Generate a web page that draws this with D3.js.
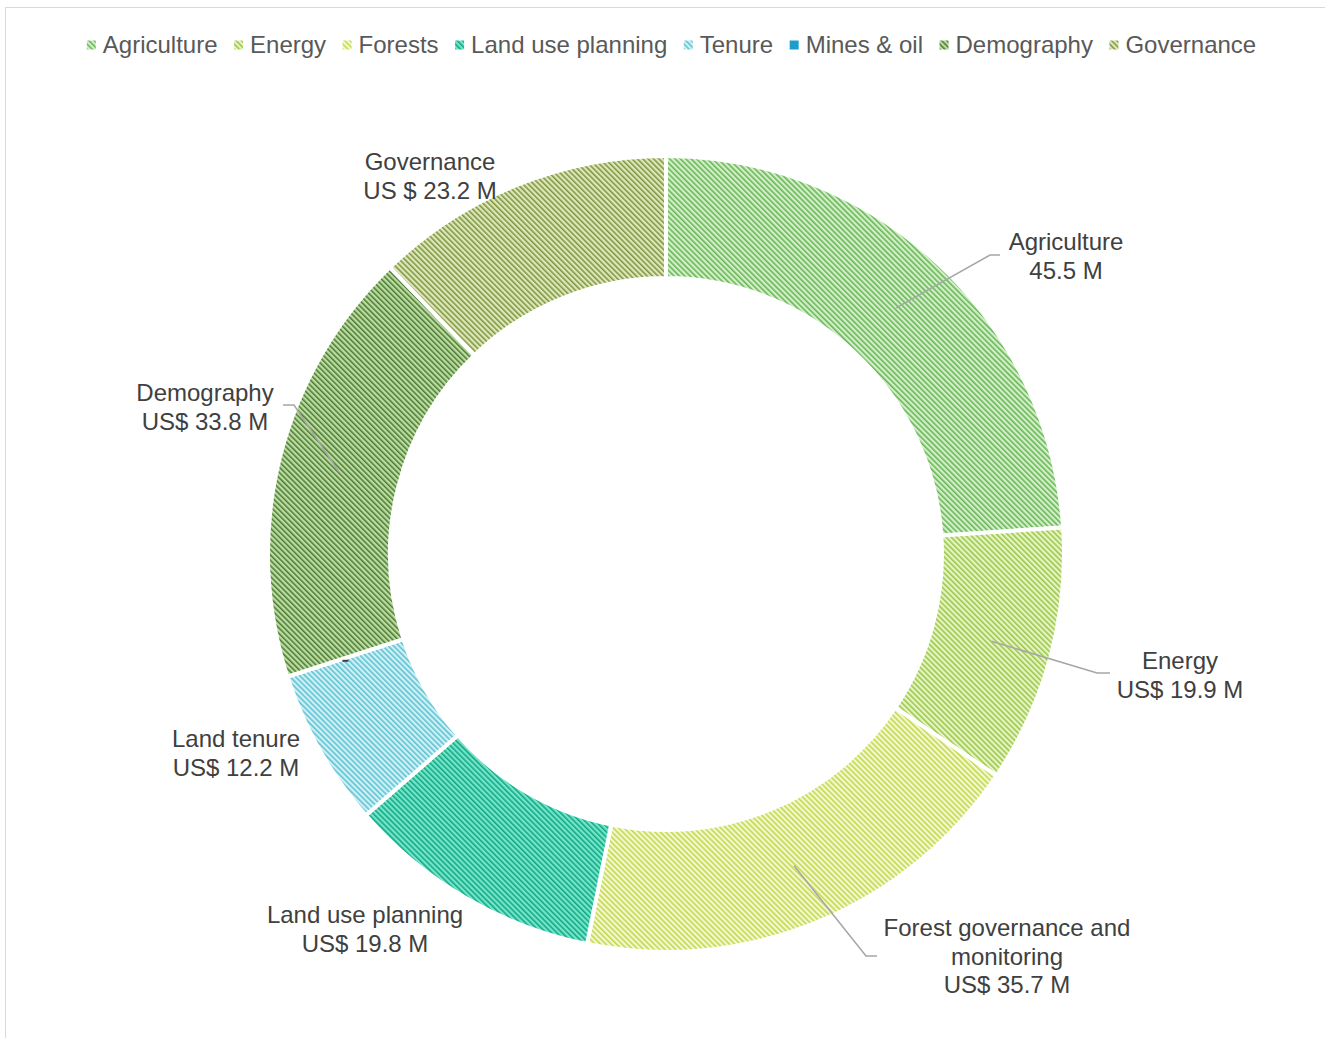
<!DOCTYPE html>
<html>
<head>
<meta charset="utf-8">
<script src="https://cdn.jsdelivr.net/npm/d3@7"></script>
<style>
  body { margin: 0; background: #fff; }
  svg { display: block; font-family: "Liberation Sans", Arial, sans-serif; }
</style>
</head>
<body>
<div id="chart"></div>
<script>
// data, slices run clockwise from 12 o'clock
const categories = ["Agriculture", "Energy", "Forests", "Land use planning", "Tenure", "Mines & oil", "Demography", "Governance"];
const values = [45.5, 19.9, 35.7, 19.8, 12.2, 0, 33.8, 23.2];
const sliceLabels = [
    ["Agriculture", "45.5 M"],
    ["Energy", "US$ 19.9 M"],
    ["Forest governance and", "monitoring", "US$ 35.7 M"],
    ["Land use planning", "US$ 19.8 M"],
    ["Land tenure", "US$ 12.2 M"],
    [],
    ["Demography", "US$ 33.8 M"],
    ["Governance", "US $ 23.2 M"]
];

// stripe colour / background colour of each hatch fill
const stripeColors = ["#62b551", "#97c645", "#c2d747", "#0fa585", "#59c1d1", "#1b9bc9", "#4a7a30", "#7d9340"];
const fillColors = ["#d3eec8", "#e6f4c3", "#f2f8cf", "#74e6c8", "#cff0f5", "#1e9fcc", "#bcdca3", "#dde8b8"];

const width = 1325, height = 1038;
const cx = 666, cy = 554;
const outerR = 398, innerR = 276;

const svg = d3.select("#chart").append("svg")
    .attr("width", width)
    .attr("height", height);

// chart frame (runs off the right / bottom of the picture)
svg.append("rect")
    .attr("x", 5.5).attr("y", 7.5)
    .attr("width", 1400).attr("height", 1100)
    .attr("fill", "#fff")
    .attr("stroke", "#d9d9d9")
    .attr("stroke-width", 1);

const defs = svg.append("defs");
categories.forEach((c, i) => {
    const p = defs.append("pattern")
        .attr("id", "hatch" + i)
        .attr("patternUnits", "userSpaceOnUse")
        .attr("width", 3.8).attr("height", 3.8)
        .attr("patternTransform", "rotate(-45)");
    p.append("rect").attr("width", 3.8).attr("height", 3.8).attr("fill", fillColors[i]);
    p.append("rect").attr("width", 1.5).attr("height", 3.8).attr("fill", stripeColors[i]);
});

const pie = d3.pie().sort(null).value(d => d.value);
const arcs = pie(categories.map((c, i) => ({ name: c, value: values[i], idx: i })));

const arc = d3.arc().innerRadius(innerR).outerRadius(outerR);
const midArc = d3.arc().innerRadius(337).outerRadius(337);

const g = svg.append("g").attr("transform", `translate(${cx},${cy})`);

g.selectAll("path.slice")
    .data(arcs)
    .join("path")
    .attr("class", "slice")
    .attr("d", arc)
    .attr("fill", d => `url(#hatch${d.data.idx})`)
    .attr("stroke", "#fff")
    .attr("stroke-width", 4);

// label layout: centre of first text line, and leader bend / end points (absolute coords)
const labelPos = [
    { x: 1066, y: 242, bend: [990, 255], end: [1000, 255] },
    { x: 1180, y: 661, bend: [1097, 673], end: [1110, 673] },
    { x: 1007, y: 928, bend: [866, 956], end: [877, 956] },
    { x: 365, y: 915 },
    { x: 236, y: 739 },
    { x: 0, y: 0 },
    { x: 205, y: 393, bend: [294, 405], end: [283, 405] },
    { x: 430, y: 162 }
];

const lineH = 28.5;
arcs.forEach((d, i) => {
    const pos = labelPos[i];
    const [mx, my] = midArc.centroid(d);
    if (pos.bend) {
        svg.append("polyline")
            .attr("points", [[cx + mx, cy + my], pos.bend, pos.end].map(p => p.join(",")).join(" "))
            .attr("fill", "none")
            .attr("stroke", "#a6a6a6")
            .attr("stroke-width", 1.5);
    }
    if (d.data.value === 0) {
        // zero-size slice only leaves a tiny leader stub
        svg.append("line")
            .attr("x1", cx + mx - 3).attr("x2", cx + mx + 3)
            .attr("y1", cy + my + 3).attr("y2", cy + my + 3)
            .attr("stroke", "#404040")
            .attr("stroke-width", 2);
        return;
    }
    const t = svg.append("text")
        .attr("text-anchor", "middle")
        .attr("fill", "#404040")
        .style("font-size", "24px");
    sliceLabels[i].forEach((line, k) => {
        t.append("tspan")
            .attr("x", pos.x)
            .attr("y", pos.y + k * lineH)
            .attr("dy", "0.35em")
            .text(line);
    });
});

// legend, centred above the ring
const legend = svg.append("g");
const legendGap = 16.5;
let lx = 0;
categories.forEach((c, i) => {
    const item = legend.append("g").attr("transform", `translate(${lx},0)`);
    item.append("rect")
        .attr("x", 0).attr("y", -4.5)
        .attr("width", 9).attr("height", 9)
        .attr("fill", `url(#hatch${i})`);
    const txt = item.append("text")
        .attr("x", 16).attr("dy", "0.35em")
        .attr("fill", "#595959")
        .style("font-size", "24px")
        .text(c);
    lx += 16 + txt.node().getComputedTextLength() + legendGap;
});
const legendW = lx - legendGap;
legend.attr("transform", `translate(${671.5 - legendW / 2},45)`);
</script>
</body>
</html>
